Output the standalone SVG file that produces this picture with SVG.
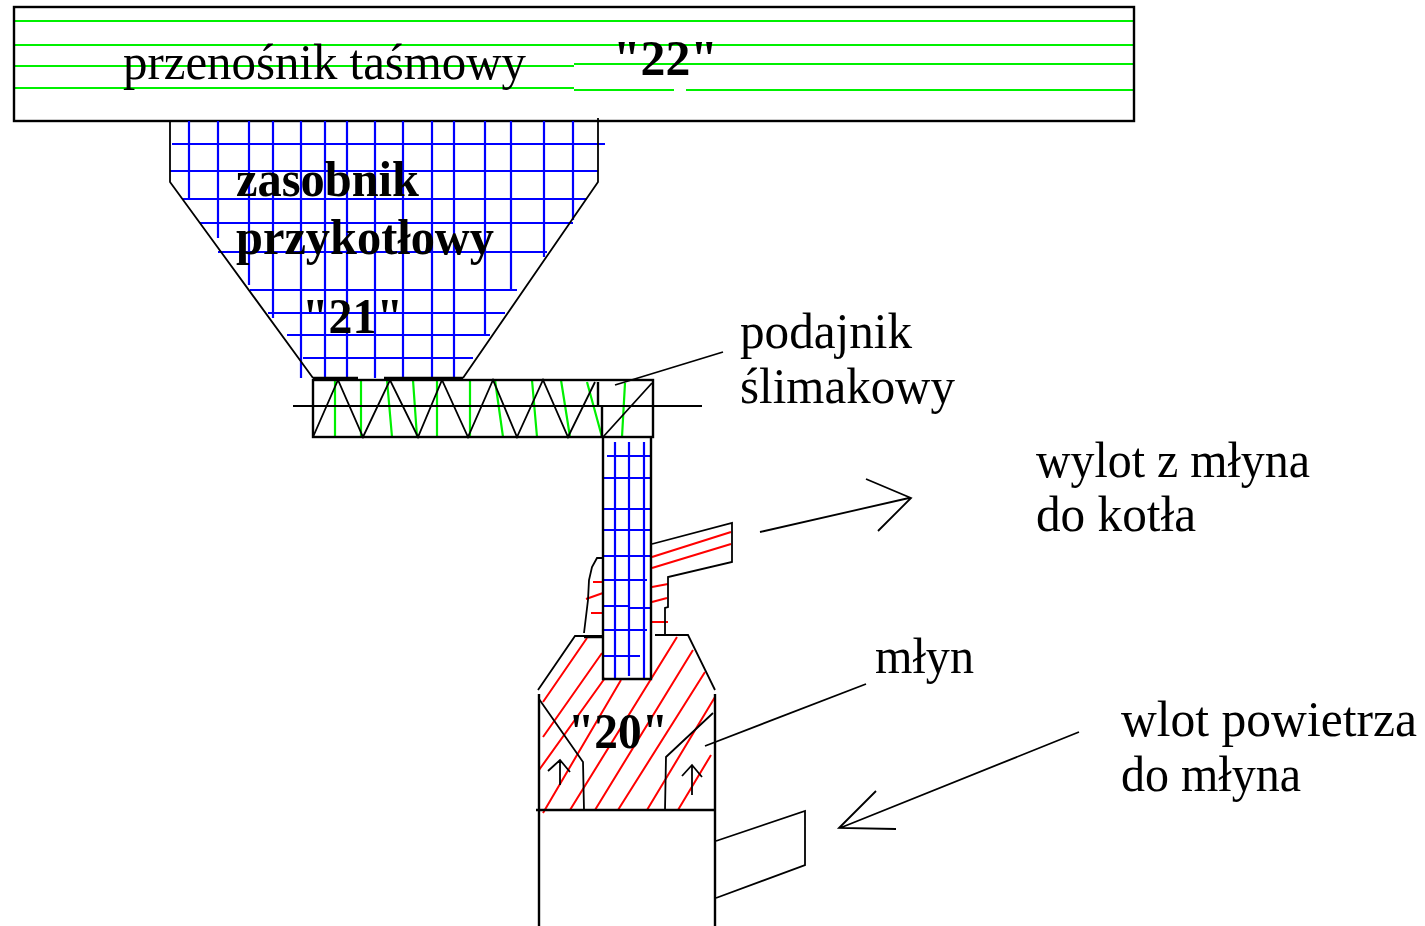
<svg xmlns="http://www.w3.org/2000/svg" width="1425" height="926" viewBox="0 0 1425 926">
<style>
.k{fill:none;stroke:#000;stroke-width:1.8}
.k2{fill:none;stroke:#000;stroke-width:2.4}
.g{fill:none;stroke:#00f000;stroke-width:2.2}
.b{fill:none;stroke:#0000ff;stroke-width:2.2}
.r{fill:none;stroke:#ff0000;stroke-width:2}
text{font-family:"Liberation Serif","Times New Roman",serif;font-size:50px;fill:#000}
.h{font-weight:bold}
</style>
<defs><filter id="soft" x="0" y="0" width="1425" height="926" filterUnits="userSpaceOnUse"><feGaussianBlur stdDeviation="0.65"/></filter></defs>
<rect width="1425" height="926" fill="#fff"/>
<g filter="url(#soft)">
<g id="conveyor">
<path class="g" d="M14 21H1134M14 45H1134M14 66H574M574 64H1134M14 88H574M574 90H674M686 90H1134"/>
<rect class="k2" x="14" y="7" width="1120" height="114"/>
<text x="123" y="79" textLength="403" lengthAdjust="spacingAndGlyphs">przenośnik taśmowy</text>
<text class="h" x="613" y="75" textLength="105" lengthAdjust="spacingAndGlyphs">"22"</text>
</g>
<g id="hopper">
<path class="b" d="M189 121V200M218 121V238M249 121V285M273 121V318M301 121V378M325 121V378M347 121V378M375 121V378M403 121V378M432 121V378M454 121V378M485 121V335M511 121V290M544 121V257M573 121V220"/>
<path class="b" d="M172 144H605M170 171H598M183 199H587M200 223H573M218 252H547M250 290H517M268 313H505M287 335H490M303 358H473"/>
<path class="k" d="M170 121V182L313 378M598 118V182L463 378"/>
<path class="k2" d="M313 378H358M384 378H463"/>
<text class="h" x="236" y="196" textLength="183" lengthAdjust="spacingAndGlyphs">zasobnik</text>
<text class="h" x="236" y="254" textLength="258" lengthAdjust="spacingAndGlyphs">przykotłowy</text>
<text class="h" x="302" y="333" textLength="101" lengthAdjust="spacingAndGlyphs">"21"</text>
</g>
<g id="feeder">
<path class="g" d="M335 380V437M361 380V437M387 380L392 437M413 380L417 437M437 380V437M470 380V437M495 380L503 437M532 380L537 437M561 380L570 437M587 382L602 437M625 383L622 437"/>
<rect class="k2" x="313" y="380" width="340" height="57"/>
<path class="k" d="M293 406H702M313 437L338 380L363 437L390 380L418 437L442 380L468 437L493 380L517 437L543 380L568 437L595 382M603 437L652 383"/>
<path class="k2" d="M598 382V406M602 406V437"/>
<text x="740" y="348" textLength="172" lengthAdjust="spacingAndGlyphs">podajnik</text>
<text x="740" y="403" textLength="215" lengthAdjust="spacingAndGlyphs">ślimakowy</text>
<path class="k" d="M723 352L615 385"/>
</g>
<g id="outlet">
<path class="r" d="M652 557L731 532M652 568L731 544M652 587L668 584M652 602L667 598M652 622L668 622M593 582H603M586 599L603 593M591 613H603"/>
<path class="k" d="M652 544L732 523V562L668 577V607L665 608V634M603 558H597L592 567L589 580L588 600L584 633"/>
<text x="1036" y="477" textLength="274" lengthAdjust="spacingAndGlyphs">wylot z młyna</text>
<text x="1036" y="531" textLength="160" lengthAdjust="spacingAndGlyphs">do kotła</text>
<path class="k" d="M760 532L909 498M866 479L911 498L878 531"/>
</g>
<g id="mill">
<path class="r" d="M587 638L543 702M602 653L543 737M605 678L539 770M621 680L543 813M677 637L570 810M693 650L595 810M705 672L618 810M715 697L647 810M711 755L678 810"/>
<path class="k" d="M603 636H575L538 690M655 635H688L715 690M539 699L583 762L584 810M665 810L666 757L713 713"/>
<path class="k2" d="M539 694V926M715 694V926M536 810H715M584 637H603"/>
<path class="k" d="M560 785V760M548 771L560 760L570 772M692 795V765M682 776L692 765L702 777"/>
<text class="h" x="568" y="748" textLength="100" lengthAdjust="spacingAndGlyphs">"20"</text>
<text x="875" y="673" textLength="99" lengthAdjust="spacingAndGlyphs">młyn</text>
<path class="k" d="M705 746L866 684"/>
</g>
<g id="pipe">
<path class="b" d="M615 442V679M629 442V676M644 442V679"/>
<path class="b" d="M607 456H650M603 478H651M603 509H651M603 530H651M603 556H651M603 580H647M603 606H630M630 608H651M603 630H647M603 656H640"/>
<path class="k2" d="M603 437V679H651V437"/>
</g>
<g id="inlet">
<path class="k" d="M716 841L805 811V865L716 898"/>
<text x="1121" y="736" textLength="296" lengthAdjust="spacingAndGlyphs">wlot powietrza</text>
<text x="1121" y="791" textLength="180" lengthAdjust="spacingAndGlyphs">do młyna</text>
<path class="k" d="M1079 732L840 828M876 791L839 828L896 829"/>
</g>
</g>
</svg>
